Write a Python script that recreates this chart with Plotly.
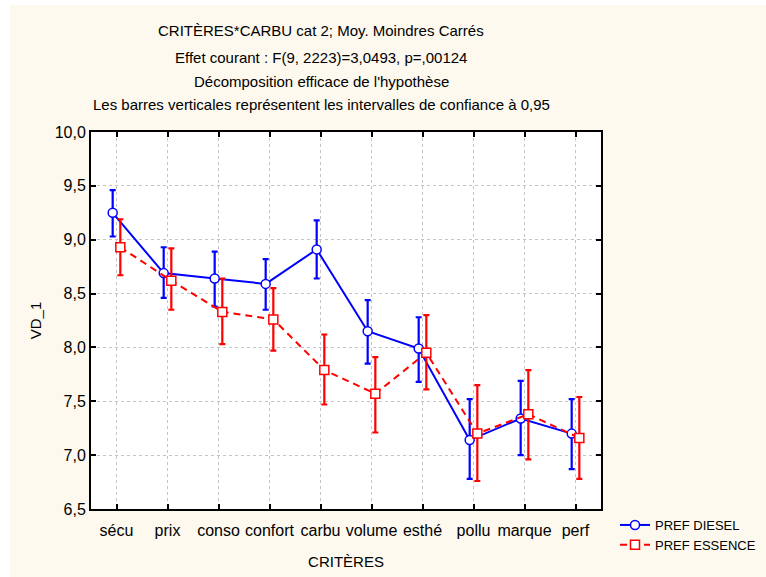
import plotly.graph_objects as go

categories = ["sécu", "prix", "conso", "confort", "carbu", "volume", "esthé", "pollu", "marque", "perf"]

diesel_mean = [9.25, 8.69, 8.64, 8.59, 8.91, 8.15, 7.99, 7.14, 7.34, 7.20]
diesel_low = [9.03, 8.46, 8.38, 8.35, 8.64, 7.85, 7.68, 6.78, 7.00, 6.87]
diesel_high = [9.46, 8.93, 8.89, 8.82, 9.18, 8.44, 8.28, 7.52, 7.69, 7.52]

essence_mean = [8.93, 8.62, 8.33, 8.26, 7.79, 7.57, 7.95, 7.20, 7.38, 7.16]
essence_low = [8.67, 8.35, 8.03, 7.97, 7.47, 7.21, 7.61, 6.76, 6.96, 6.78]
essence_high = [9.19, 8.92, 8.64, 8.55, 8.12, 7.91, 8.30, 7.65, 7.79, 7.54]

title_lines = [
    "CRITÈRES*CARBU cat 2; Moy. Moindres Carrés",
    "Effet courant : F(9, 2223)=3,0493, p=,00124",
    "Décomposition efficace de l'hypothèse",
    "Les barres verticales représentent les intervalles de confiance à 0,95",
]

W, H = 766, 577
ML, MR, MT, MB = 91, 165, 132, 68
PW, PH = W - ML - MR, H - MT - MB

BLUE = "#0000ff"
RED = "#ff0000"
CREAM = "#fdf9ee"
FONT = "Liberation Sans, Arial, sans-serif"

idx = list(range(len(categories)))
shift = 0.075

fig = go.Figure()
fig.add_trace(go.Scatter(
    x=[i - shift for i in idx], y=diesel_mean, name="PREF DIESEL",
    mode="lines+markers",
    line=dict(color=BLUE, width=2),
    marker=dict(symbol="circle", size=9, color="white", line=dict(color=BLUE, width=1.5)),
    error_y=dict(type="data", symmetric=False,
                 array=[h - m for h, m in zip(diesel_high, diesel_mean)],
                 arrayminus=[m - l for m, l in zip(diesel_mean, diesel_low)],
                 color=BLUE, thickness=2.2, width=3),
))
fig.add_trace(go.Scatter(
    x=[i + shift for i in idx], y=essence_mean, name="PREF ESSENCE",
    mode="lines+markers",
    line=dict(color=RED, width=2, dash="7px,5px"),
    marker=dict(symbol="square", size=9, color="white", line=dict(color=RED, width=1.5)),
    error_y=dict(type="data", symmetric=False,
                 array=[h - m for h, m in zip(essence_high, essence_mean)],
                 arrayminus=[m - l for m, l in zip(essence_mean, essence_low)],
                 color=RED, thickness=2.2, width=3),
))

title_y = [30, 57, 81, 104]
annotations = []
for txt, yp in zip(title_lines, title_y):
    annotations.append(dict(
        text=txt, xref="paper", yref="paper",
        x=(321 - ML) / PW, y=(H - MB - yp) / PH,
        xanchor="center", yanchor="middle", showarrow=False,
        font=dict(family=FONT, size=15, color="black"),
    ))

shapes = [
    dict(type="rect", xref="paper", yref="paper", layer="below",
         x0=-ML / PW, x1=(10 - ML) / PW, y0=-MB / PH, y1=(PH + MT) / PH,
         fillcolor="white", line=dict(width=0)),
    dict(type="rect", xref="paper", yref="paper", layer="below",
         x0=-ML / PW, x1=(W - ML) / PW, y0=(PH + MT - 5) / PH, y1=(PH + MT) / PH,
         fillcolor="white", line=dict(width=0)),
]

axis_common = dict(
    showline=True, linecolor="black", linewidth=2, mirror="ticks",
    ticks="inside", ticklen=5, tickwidth=2, tickcolor="black",
    showgrid=True, gridcolor="#c4c4c4", gridwidth=1, griddash="dot",
    zeroline=False, tickfont=dict(family=FONT, size=16, color="black"),
    automargin=False,
)

fig.update_layout(
    width=W, height=H,
    margin=dict(l=ML, r=MR, t=MT, b=MB, pad=0, autoexpand=False),
    paper_bgcolor=CREAM, plot_bgcolor="white",
    separators=", ",
    showlegend=True,
    legend=dict(xref="container", yref="container",
                x=615 / W, y=(H - 510) / H, xanchor="left", yanchor="top",
                bgcolor="rgba(0,0,0,0)", font=dict(family=FONT, size=13, color="black"),
                tracegroupgap=0, itemwidth=30),
    annotations=annotations,
    shapes=shapes,
    xaxis=dict(
        range=[-0.5, len(categories) - 0.5],
        tickmode="array", tickvals=idx, ticktext=categories,
        ticklabelstandoff=6,
        title=dict(text="CRITÈRES", font=dict(family=FONT, size=15, color="black"), standoff=18),
        **axis_common,
    ),
    yaxis=dict(
        range=[6.5, 10.0], tickmode="linear", tick0=6.5, dtick=0.5, tickformat=".1f",
        title=dict(text="VD_1", font=dict(family=FONT, size=15, color="black"), standoff=9),
        **axis_common,
    ),
)

fig.write_html("out.html", config={"displayModeBar": False},
               post_script="document.body.style.margin='0';")
